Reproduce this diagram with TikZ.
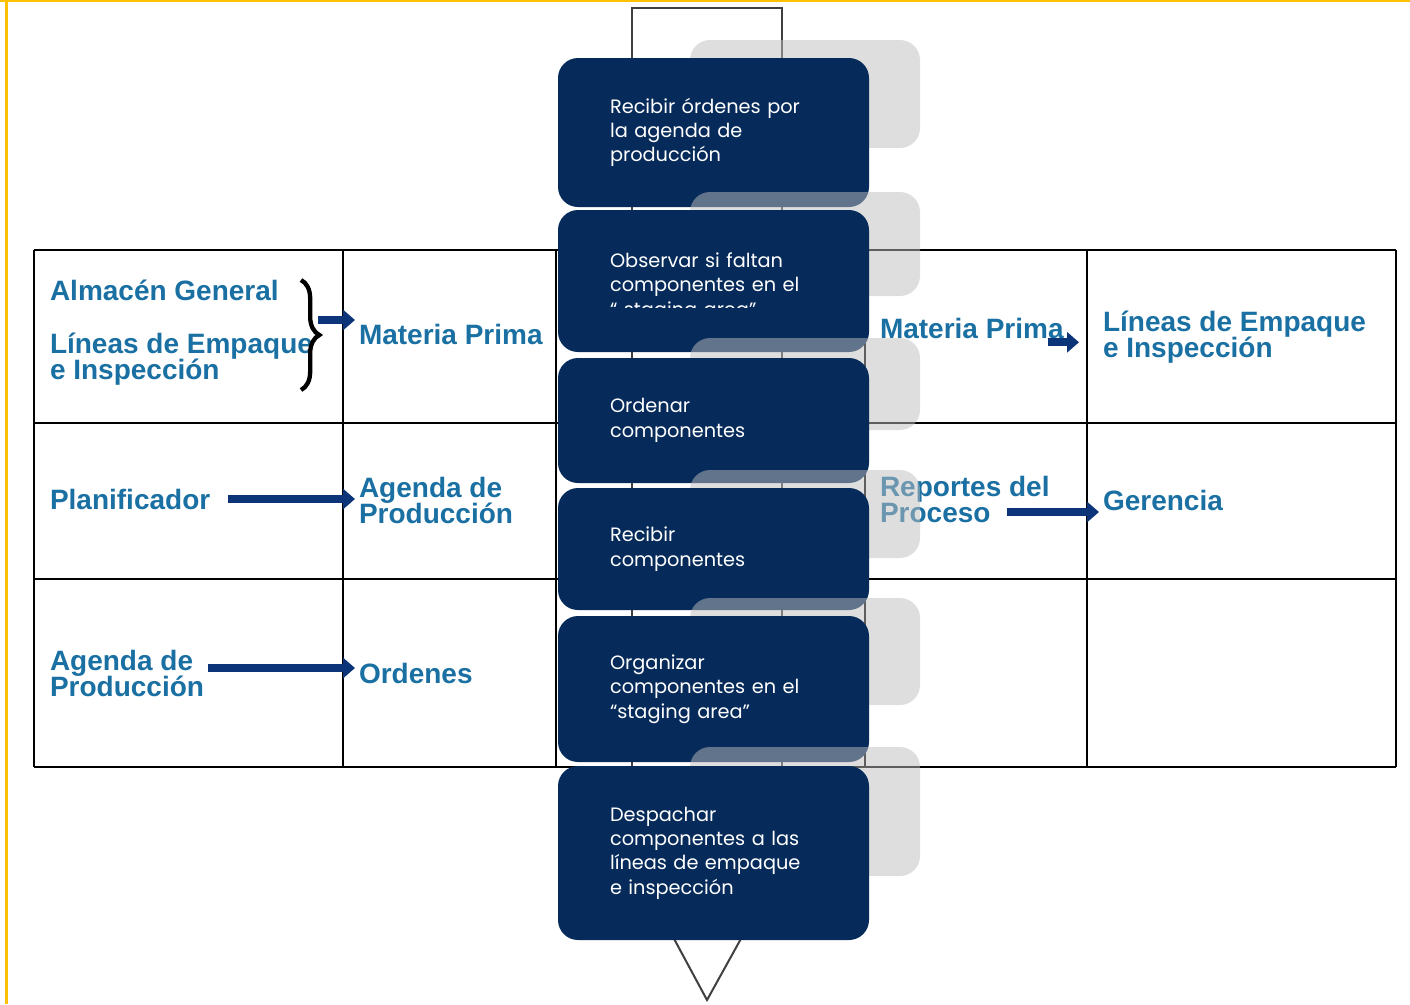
\documentclass[tikz,border=0pt]{standalone}
\usepackage{fontspec}
\setmainfont{Liberation Sans}
\newfontfamily\gothic{Poppins}
\usetikzlibrary{arrows.meta, positioning, decorations.pathreplacing}

\definecolor{stepblue}{RGB}{6,43,90}
\definecolor{labelblue}{RGB}{26,112,162}
\definecolor{arrowblue}{RGB}{12,52,120}
\definecolor{framegold}{RGB}{255,192,0}
\definecolor{tabgray}{RGB}{189,189,189}

\newcommand\tightlines{\lineskiplimit=-4pt\relax}

\begin{document}
\begin{tikzpicture}[
			x=0.3pt, y=-0.3pt,
			stepbox/.style={fill=stepblue, rounded corners=6pt, text=white, align=left, text width=62.1pt, inner xsep=15.6pt, inner ysep=0pt, minimum width=93.3pt, font=\gothic\fontsize{5.8}{7.3}\selectfont},
			backtab/.style={fill=tabgray, fill opacity=0.5, rounded corners=6pt},
			lbl/.style={anchor=west, text=labelblue, align=left, inner sep=1pt, font=\bfseries\fontsize{8.4}{7.8}\selectfont\tightlines},
			blockarrow/.style={draw=arrowblue, line width=2.5pt, -{Triangle[length=3.6pt,width=6pt]}},
			tablerule/.style={draw=black, line width=0.6pt}
			]
			\useasboundingbox (0,0) rectangle (1410,1004);
			
			% Frame
			\fill[framegold] (0,0) rectangle (1410,2);
			\fill[framegold] (5,0) rectangle (8,1004);
			
			% Table
			\foreach \xx in {34,343,556,865,1087,1396}
				\draw[tablerule] (\xx,250) -- (\xx,767);
			\foreach \yy in {250,423,579,767}
				\draw[tablerule] (34,\yy) -- (1396,\yy);
			
			% Inputs
			\node[lbl] (almacen) at (46,290) {Almacén General};
			\node[lbl] (lineasA) at (46,359) {Líneas de Empaque\\e Inspección};
			\node[lbl] (materiaA) at (355,334) {Materia Prima};
			\node[lbl] (planif) at (46,499) {Planificador};
			\node[lbl] (agendaA) at (355,500) {Agenda de\\Producción};
			\node[lbl] (agendaB) at (46,673) {Agenda de\\Producción};
			\node[lbl] (ordenes) at (355,673) {Ordenes};
			
			% Outputs
			\node[lbl] (materiaB) at (876,328) {Materia Prima};
			\node[lbl] (lineasB) at (1099,337) {Líneas de Empaque\\e Inspección};
			\node[lbl] (reportes) at (876,499) {Reportes del\\Proceso};
			\node[lbl] (gerencia) at (1099,500) {Gerencia};
			
			% Brace and arrows
			\draw[decorate, decoration={brace, amplitude=5.5pt}, line width=1.3pt] (301,280) -- (301,390);
			\coordinate (bracetip) at (318,320);
			\coordinate (repout) at (1007,512);
			\draw[blockarrow] (bracetip) -- (bracetip -| materiaA.west);
			\draw[blockarrow, shorten <=4pt] (planif.east) -- (planif.east -| agendaA.west);
			\draw[blockarrow] ([yshift=1.5pt]agendaB.east) -- ([yshift=1.5pt]agendaB.east -| ordenes.west);
			\draw[blockarrow] ([xshift=-6pt]materiaB.south east) -- ([xshift=-6pt]materiaB.south east -| lineasB.west);
			\draw[blockarrow] (repout) -- (repout -| gerencia.west);
			
			% Column outline
			\draw[line width=0.6pt, draw=black!75] (632,770) -- (632,8) -- (782,8) -- (782,770);
			\draw[line width=0.6pt, draw=black!75] (672,935) -- (707,1000) -- (743,935);
			
			% Steps
			\fill[backtab] (690,40) rectangle (920,148);
			\node[stepbox, minimum height=44.7pt] (step1) at (713.5,132.5) {Recibir órdenes por\\la agenda de\\producción};
			
			\fill[backtab] (690,192) rectangle (920,296);
			\node[stepbox, minimum height=42.6pt] (step2) at (713.5,281) {};
			\begin{scope}
				\clip (558,210) rectangle (869,307);
				\node[stepbox, fill=none] (step2txt) at (713.5,287) {Observar si faltan\\componentes en el\\“ staging area”};
			\end{scope}
			
			\fill[backtab] (690,338) rectangle (920,430);
			\node[stepbox, minimum height=37.5pt] (step3) at (713.5,420.5) {Ordenar\\componentes};
			
			\fill[backtab] (690,470) rectangle (920,558);
			\node[stepbox, minimum height=36.6pt] (step4) at (713.5,549) {Recibir\\componentes};
			
			\fill[backtab] (690,598) rectangle (920,705);
			\node[stepbox, minimum height=43.8pt] (step5) at (713.5,689) {Organizar\\componentes en el\\“staging area”};
			
			\fill[backtab] (690,747) rectangle (920,876);
			\node[stepbox, minimum height=52.2pt] (step6) at (713.5,853) {Despachar\\componentes a las\\líneas de empaque\\e inspección};
			
		\end{tikzpicture}
\end{document}
